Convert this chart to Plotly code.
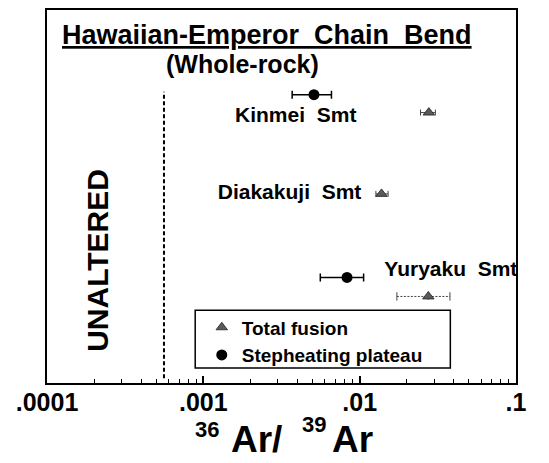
import plotly.graph_objects as go

# --- data ---
# step-heating plateau points
plateau_name = ["Kinmei", "Yuryaku"]
plateau_x = [0.0051, 0.0083]
plateau_lo = [0.0037, 0.0056]
plateau_hi = [0.0066, 0.0106]
plateau_row = [7.73, 2.83]

# total fusion points
fusion_name = ["Kinmei", "Diakakuji", "Yuryaku"]
fusion_x = [0.0277, 0.0138, 0.0275]
fusion_lo = [0.0245, 0.0127, 0.0173]
fusion_hi = [0.0305, 0.0152, 0.0378]
fusion_row = [7.25, 5.07, 2.32]

# seamount labels
label_text = ["Kinmei  Smt", "Diakakuji  Smt", "Yuryaku  Smt"]
label_x = [0.0039, 0.00356, 0.0383]
label_row = [7.15, 5.07, 3.0]

# "unaltered" boundary
unaltered_x = 0.00056
unaltered_rows = [0.13, 7.81]

tick_vals = [1e-4, 1e-3, 1e-2, 1e-1]
tick_text = [".0001", ".001", ".01", ".1"]
minor_vals = [m * d for d in [1e-4, 1e-3, 1e-2] for m in range(2, 10)]

FONT = "Liberation Sans, Arial, sans-serif"

fig = go.Figure()

# dashed boundary line
fig.add_trace(go.Scatter(
    x=[unaltered_x, unaltered_x], y=unaltered_rows, mode="lines",
    line=dict(color="black", width=2, dash="4px,2.5px"),
    showlegend=False, hoverinfo="skip",
))

# total fusion (error bars solid except last, which is dotted)
solid_minus = [x - lo for x, lo in zip(fusion_x[:2], fusion_lo[:2])] + [0]
solid_plus = [hi - x for x, hi in zip(fusion_x[:2], fusion_hi[:2])] + [0]
fig.add_trace(go.Scatter(
    x=[fusion_lo[2], fusion_hi[2]], y=[fusion_row[2]] * 2,
    mode="lines+markers",
    line=dict(color="#444", width=1, dash="2px,1.5px"),
    marker=dict(symbol="line-ns", size=6, line=dict(color="#444", width=1)),
    showlegend=False, hoverinfo="skip",
))
fig.add_trace(go.Scatter(
    x=fusion_x, y=fusion_row, mode="markers", name="Total fusion",
    marker=dict(symbol="triangle-up", size=10, color="#5a5a5a",
                line=dict(color="#222", width=0.8)),
    error_x=dict(type="data", symmetric=False, array=solid_plus,
                 arrayminus=solid_minus, color="#444", thickness=1, width=3),
    text=fusion_name,
))

# stepheating plateau
fig.add_trace(go.Scatter(
    x=plateau_x, y=plateau_row, mode="markers", name="Stepheating plateau",
    marker=dict(symbol="circle", size=11, color="black"),
    error_x=dict(type="data", symmetric=False,
                 array=[hi - x for x, hi in zip(plateau_x, plateau_hi)],
                 arrayminus=[x - lo for x, lo in zip(plateau_x, plateau_lo)],
                 color="black", thickness=1.5, width=4),
    text=plateau_name,
))

# seamount labels
fig.add_trace(go.Scatter(
    x=label_x, y=label_row, mode="text", text=label_text,
    textfont=dict(family=FONT, size=21, color="black", weight="bold"),
    showlegend=False, hoverinfo="skip",
))

# titles and annotations
fig.add_annotation(
    text="<u>Hawaiian-Emperor  Chain  Bend</u>", xref="paper", yref="paper",
    x=0.469, y=0.933, xanchor="center", yanchor="middle", showarrow=False,
    font=dict(family=FONT, size=27, color="black", weight="bold"),
)
fig.add_annotation(
    text="(Whole-rock)", xref="paper", yref="paper",
    x=0.416, y=0.856, xanchor="center", yanchor="middle", showarrow=False,
    font=dict(family=FONT, size=25, color="black", weight="bold"),
)
fig.add_annotation(
    text="UNALTERED", xref="paper", yref="paper", textangle=-90,
    x=0.107, y=0.328, xanchor="center", yanchor="middle", showarrow=False,
    font=dict(family=FONT, size=30, color="black", weight="bold"),
)

# x-axis title 36Ar/39Ar, built from pieces to get the wide spacing
title_parts = [
    ("36", 0.341, -0.125, "center", 22),
    ("Ar/", 0.388, -0.152, "left", 37),
    ("39", 0.569, -0.112, "center", 22),
    ("Ar", 0.603, -0.152, "left", 37),
]
for txt, px, py, anchor, size in title_parts:
    fig.add_annotation(
        text=txt, xref="paper", yref="paper", x=px, y=py,
        xanchor=anchor, yanchor="middle", showarrow=False,
        font=dict(family=FONT, size=size, color="black", weight="bold"),
    )

# legend box
fig.add_shape(type="rect", xref="paper", yref="paper",
              x0=0.316, x1=0.860, y0=0.04, y1=0.195,
              line=dict(color="black", width=1.5), fillcolor="rgba(0,0,0,0)")

fig.update_layout(
    width=549, height=463,
    margin=dict(l=47, r=33, t=8, b=80),
    plot_bgcolor="white", paper_bgcolor="white",
    font=dict(family=FONT, color="black"),
    xaxis=dict(
        type="log", range=[-4, -1],
        tickvals=tick_vals, ticktext=tick_text,
        ticks="inside", ticklen=7, tickwidth=1.5, tickcolor="black",
        tickfont=dict(family=FONT, size=25, color="black", weight="bold"),
        ticklabelstandoff=-4,
        minor=dict(tickvals=minor_vals, ticks="inside", ticklen=4,
                   tickwidth=1, tickcolor="black", showgrid=False),
        showgrid=False, zeroline=False,
        showline=True, linecolor="black", linewidth=2, mirror=True,
    ),
    yaxis=dict(
        range=[0, 10], showticklabels=False, ticks="",
        showgrid=False, zeroline=False,
        showline=True, linecolor="black", linewidth=2, mirror=True,
    ),
    legend=dict(
        x=0.33, y=0.2, xanchor="left", yanchor="top",
        bgcolor="rgba(0,0,0,0)", borderwidth=0,
        font=dict(family=FONT, size=19, color="black", weight="bold"),
    ),
    showlegend=True,
)

# drop the page's default body margin so the figure sits at the window's corner
fig.write_html("out.html", config={"displayModeBar": False},
               post_script="document.body.style.margin='0';")
